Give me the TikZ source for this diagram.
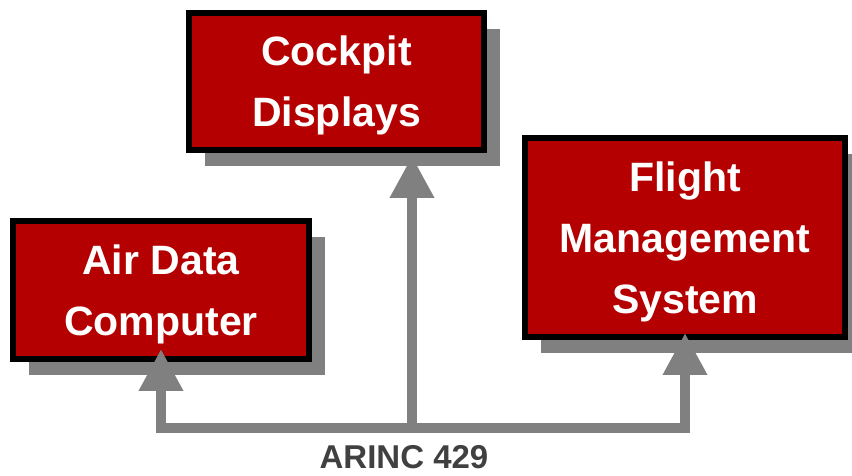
\documentclass[tikz,border=0pt]{standalone}
\usepackage{fontspec}
\setmainfont{Liberation Sans}
\usetikzlibrary{shadows}
\usetikzlibrary{arrows.meta}
\definecolor{boxred}{RGB}{180,0,0}
\definecolor{busgray}{RGB}{128,128,128}
\definecolor{labelgray}{RGB}{64,64,64}
\tikzstyle{unit}=[rectangle,draw=black,line width=6pt,fill=boxred,text=white,align=center,inner sep=0pt,outer sep=0pt,text depth=0pt,font=\fontsize{41}{61}\selectfont\bfseries,drop shadow={shadow xshift=16pt,shadow yshift=-16pt,fill=busgray,opacity=1}]
\tikzstyle{bus}=[draw=busgray,line width=10pt,line join=miter]
\tikzstyle{feed}=[-{Triangle[width=42pt,length=42pt]}]
\tikzstyle{feedboth}=[{Triangle[width=42pt,length=42pt]}-{Triangle[width=42pt,length=42pt]}]
\tikzstyle{buslabel}=[text=labelgray,font=\fontsize{33}{40}\selectfont\bfseries,inner sep=0pt]

\begin{document}
\begin{tikzpicture}[x=1pt,y=1pt]
  \useasboundingbox (0,0) rectangle (852,476);

%units
    \foreach \pos/\name/\w/\h/\txt in {{(336.5,394.5)/cdu/295/137/{Cockpit\\Displays}}, {(161,186)/adc/296/138/{Air Data\\Computer}}, {(685,238.5)/fms/320/199/{Flight\\Management\\System}}}
        \node[unit,minimum width=\w pt,minimum height=\h pt] (\name) at \pos {\txt};

%bus
    \coordinate (bus) at (0,48);
    \coordinate (tap) at (412,48);
    \draw[bus,feedboth] ([yshift=10pt]adc.south) -- (adc.south |- bus) -- (fms.south |- bus) -- ([yshift=4pt]fms.south);
    \draw[bus,feed] (tap) -- ([yshift=-6pt]tap |- cdu.south);

% Label
  \node[buslabel,anchor=base] (arinc) at (404,7) {ARINC 429};

\end{tikzpicture}
\end{document}
